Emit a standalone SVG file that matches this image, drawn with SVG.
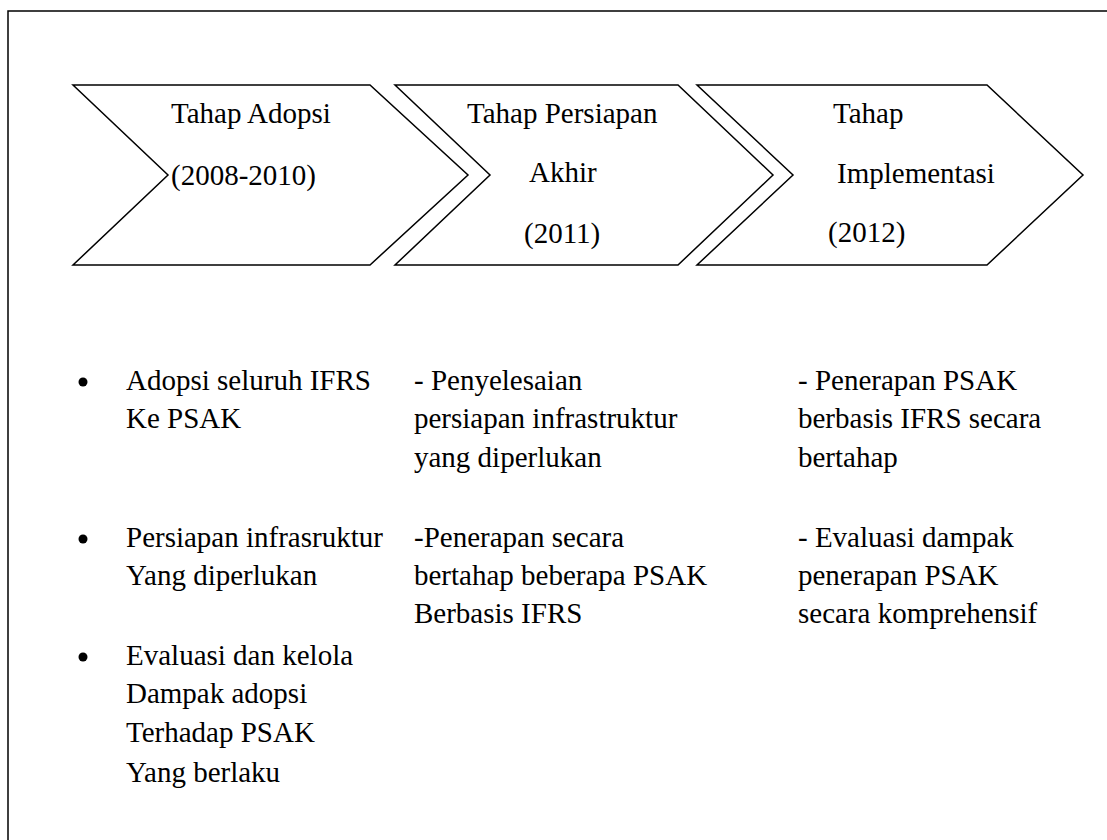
<svg xmlns="http://www.w3.org/2000/svg" width="1107" height="840" viewBox="0 0 1107 840">
<style>
.shape{fill:#fff;stroke:#000;stroke-width:1.5;stroke-linejoin:miter}
.t{font-family:"Liberation Serif","Times New Roman",serif;font-size:29px;fill:#000}
</style>
<rect width="1107" height="840" fill="#fff"/>
<path d="M8,840 V11 H1107" fill="none" stroke="#000" stroke-width="1.5"/>
<g id="chevron1">
<polygon class="shape" points="73,85 370,85 468,175 370,265 73,265 168,175"/>
<text class="t" x="171" y="123">Tahap Adopsi</text>
<text class="t" x="171" y="185">(2008-2010)</text>
</g>
<g id="chevron2">
<polygon class="shape" points="395,85 678,85 773,175 678,265 395,265 490,175"/>
<text class="t" x="467" y="123">Tahap Persiapan</text>
<text class="t" x="529" y="182">Akhir</text>
<text class="t" x="524" y="243">(2011)</text>
</g>
<g id="chevron3">
<polygon class="shape" points="697,85 987,85 1083,175 987,265 697,265 793,175"/>
<text class="t" x="833" y="123">Tahap</text>
<text class="t" x="837" y="183">Implementasi</text>
<text class="t" x="828" y="242">(2012)</text>
</g>
<g id="list1">
<circle cx="83" cy="382" r="4.5" fill="#000"/>
<circle cx="83" cy="539" r="4.5" fill="#000"/>
<circle cx="83" cy="657" r="4.5" fill="#000"/>
<text class="t" x="126" y="390">Adopsi seluruh IFRS</text>
<text class="t" x="126" y="428">Ke PSAK</text>
<text class="t" x="126" y="547">Persiapan infrasruktur</text>
<text class="t" x="126" y="585">Yang diperlukan</text>
<text class="t" x="126" y="665">Evaluasi dan kelola</text>
<text class="t" x="126" y="703">Dampak adopsi</text>
<text class="t" x="126" y="742">Terhadap PSAK</text>
<text class="t" x="126" y="782">Yang berlaku</text>
</g>
<g id="list2">
<text class="t" x="414" y="390">- Penyelesaian</text>
<text class="t" x="414" y="428">persiapan infrastruktur</text>
<text class="t" x="414" y="467">yang diperlukan</text>
<text class="t" x="414" y="547">-Penerapan secara</text>
<text class="t" x="414" y="585">bertahap beberapa PSAK</text>
<text class="t" x="414" y="623">Berbasis IFRS</text>
</g>
<g id="list3">
<text class="t" x="798" y="390">- Penerapan PSAK</text>
<text class="t" x="798" y="428">berbasis IFRS secara</text>
<text class="t" x="798" y="467">bertahap</text>
<text class="t" x="798" y="547">- Evaluasi dampak</text>
<text class="t" x="798" y="585">penerapan PSAK</text>
<text class="t" x="798" y="623">secara komprehensif</text>
</g>
<g id="connectors"></g>
</svg>
